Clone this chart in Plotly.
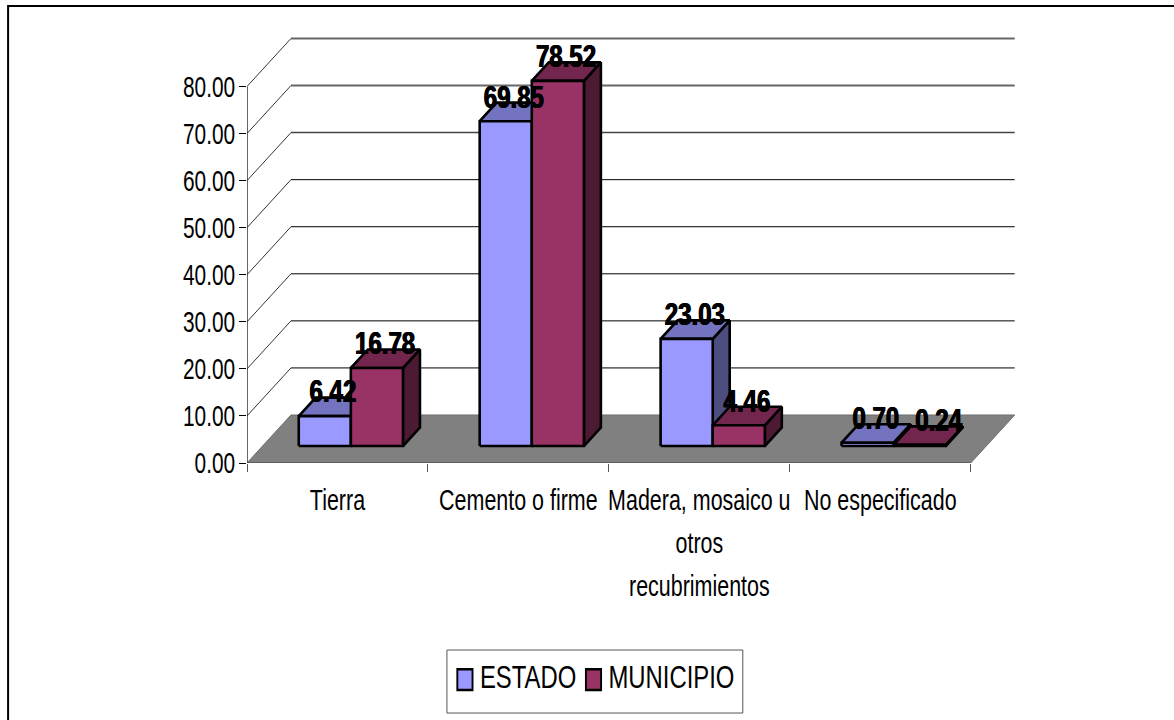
import plotly.graph_objects as go

# Floor finish categories and the two series
categories = ["Tierra", "Cemento o firme", "Madera, mosaico u<br>otros<br>recubrimientos", "No especificado"]
estado = [6.42, 69.85, 23.03, 0.70]
municipio = [16.78, 78.52, 4.46, 0.24]
y_ticks = [0, 10, 20, 30, 40, 50, 60, 70, 80]

W, H = 1174, 720
PLOT_L, PLOT_B = 247, 463          # pixel position of the axes origin
PX_X, PX_Y = 181.0, 4.706          # pixels per category / per value unit
X_MAX, Y_MAX = 4.3, 92.0
plot_w, plot_h = X_MAX * PX_X, Y_MAX * PX_Y

# Oblique projection of the depth axis, in data units
DEPTH_X, DEPTH_Y = 44 / PX_X, 48 / PX_Y
BAR_D0, BAR_D1 = 0.354, 0.74       # front and back of the bars along the depth axis
BAR_W, BAR_START = 0.288, 0.2
BAR_K = 0.988                      # foreshortening of bar heights

FONT = "Liberation Sans, Arial, sans-serif"
series = [
    ("ESTADO", estado, "#9999FF", "#7373BF", "#4D4D80"),
    ("MUNICIPIO", municipio, "#993366", "#73264D", "#4D1A33"),
]


def proj(x, v, d):
    return x + d * DEPTH_X, v * BAR_K + d * DEPTH_Y


def wall(x, y, **kw):
    return go.Scatter(x=x, y=y, mode="lines", showlegend=False, hoverinfo="skip", cliponaxis=False, **kw)


fig = go.Figure()

# Back wall and side wall gridlines
for v in y_ticks[1:]:
    color, width = ("#666666", 2) if v >= 70 else ("#444444", 1.5) if v == 60 else ("#000000", 1)
    fig.add_trace(wall([DEPTH_X, 4 + DEPTH_X], [v + DEPTH_Y] * 2, line=dict(color=color, width=width)))
    fig.add_trace(wall([0, DEPTH_X], [v, v + DEPTH_Y], line=dict(color="#000000", width=0.8)))

# Floor
fig.add_trace(wall([0, 4, 4 + DEPTH_X, DEPTH_X, 0], [0, 0, DEPTH_Y, DEPTH_Y, 0],
                   fill="toself", fillcolor="#808080", line=dict(color="#6e6e6e", width=1)))
# Value axis line
fig.add_trace(wall([0, 0], [0, y_ticks[-1]], line=dict(color="#000000", width=1.2)))
fig.add_trace(wall([0, 4], [0, 0], line=dict(color="#555555", width=1.5)))

# Bars: side, top, then front face of each block
for i in range(len(categories)):
    for j, (name, values, front, top, side) in enumerate(series):
        v = values[i]
        x0 = i + BAR_START + j * BAR_W
        x1 = x0 + BAR_W
        faces = [
            (side, [(x1, 0, BAR_D0), (x1, 0, BAR_D1), (x1, v, BAR_D1), (x1, v, BAR_D0)]),
            (top, [(x0, v, BAR_D0), (x1, v, BAR_D0), (x1, v, BAR_D1), (x0, v, BAR_D1)]),
            (front, [(x0, 0, BAR_D0), (x1, 0, BAR_D0), (x1, v, BAR_D0), (x0, v, BAR_D0)]),
        ]
        for color, corners in faces:
            pts = [proj(*c) for c in corners]
            pts.append(pts[0])
            fig.add_trace(wall([p[0] for p in pts], [p[1] for p in pts], fill="toself", fillcolor=color,
                               line=dict(color="#000000", width=2.6)))

# Value labels sit above the block, the last one is pushed clear of its neighbour
label_nudge = {(3, 1): 0.06}
for j, (name, values, *_rest) in enumerate(series):
    xs, ys = [], []
    for i, v in enumerate(values):
        cx, cy = proj(i + BAR_START + (j + 0.5) * BAR_W, v, BAR_D0)
        xs.append(cx + 0.045 + label_nudge.get((i, j), 0))
        ys.append(cy + 4.6)
    fig.add_trace(go.Scatter(x=xs, y=ys, mode="text", text=[f"{v:.2f}" for v in values],
                             textposition="middle center", cliponaxis=False, showlegend=False, hoverinfo="skip",
                             textfont=dict(family=FONT, size=32, color="#000000", weight="bold",
                                           shadow="0.6px 0 0 #000, -0.6px 0 0 #000")))

# Legend entries
for name, values, front, top, side in series:
    fig.add_trace(go.Scatter(x=[None], y=[None], mode="markers", name=name,
                             marker=dict(symbol="square", size=16, color=front, line=dict(color="#000000", width=2))))


def px(x):
    return (x - PLOT_L) / plot_w


def py(y):
    return (PLOT_B - y) / plot_h


def frame(x0, y0, x1, y1, **kw):
    return dict(type="rect", xref="paper", yref="paper", x0=px(x0), x1=px(x1), y0=py(y0), y1=py(y1), **kw)


shapes = [
    frame(8, 6, W + 10, H + 10, line=dict(color="#000000", width=2), layer="below"),
    frame(447, 650, 743, 713, line=dict(color="#555555", width=1), layer="below"),
]

spaced = [f'<span style="font-size:29px">{c.replace("<br>", "</span><br><span style=\"font-size:29px\">")}</span>'
          for c in categories]

fig.update_layout(
    width=W,
    height=H,
    margin=dict(l=PLOT_L, r=W - PLOT_L - plot_w, t=PLOT_B - plot_h, b=H - PLOT_B, autoexpand=False),
    paper_bgcolor="#FFFFFF",
    plot_bgcolor="rgba(0,0,0,0)",
    shapes=shapes,
    showlegend=True,
    legend=dict(orientation="h", x=px(445), xanchor="left", y=py(680), yanchor="middle",
                bgcolor="rgba(0,0,0,0)", borderwidth=0, font=dict(family=FONT, size=31, color="#000000")),
    xaxis=dict(range=[0, X_MAX], showgrid=False, zeroline=False, showline=False,
               tickmode="array", tickvals=[i + 0.5 for i in range(len(categories))], ticktext=spaced,
               ticks="", ticklabelstandoff=13, tickangle=0, tickfont=dict(family=FONT, size=33, color="#000000"),
               minor=dict(tickmode="array", tickvals=list(range(len(categories) + 1)), ticks="outside",
                          ticklen=8, tickwidth=1, tickcolor="#555555", showgrid=False)),
    yaxis=dict(range=[0, Y_MAX], showgrid=False, zeroline=False, showline=False,
               tickmode="array", tickvals=y_ticks, tickformat=".2f", ticks="outside", ticklen=7,
               ticklabelstandoff=-2, tickwidth=1, tickcolor="#000000",
               tickfont=dict(family=FONT, size=29, color="#000000")),
)

# Condense the lettering horizontally about each text's anchor, tighten the legend keys
# and close up the legend entries to the condensed text width
POST_SCRIPT = """
var root = document.querySelector('.js-plotly-plot');
function squeeze(t, k, dx, dy) {
  var base = t.getAttribute('transform') || '';
  if (base.indexOf('scale(') >= 0) return;
  var x = parseFloat(t.getAttribute('x')) || 0;
  t.setAttribute('transform', base + ' translate(' + (x + dx) + ',' + dy + ') scale(' + k + ',1) translate(' + (-x) + ',0)');
}
function restyle() {
  root.querySelectorAll('.xtick text').forEach(function (t) { squeeze(t, 0.74, 0, 0); });
  root.querySelectorAll('.ytick text').forEach(function (t) { squeeze(t, 0.72, 0, 0); });
  root.querySelectorAll('.textpoint text').forEach(function (t) { squeeze(t, 0.75, 0, 0); });
  root.querySelectorAll('text.legendtext').forEach(function (t) { squeeze(t, 0.77, -5, -4); });
  root.querySelectorAll('.legendpoints path').forEach(function (p) {
    var base = p.getAttribute('transform') || '';
    if (base.indexOf('scale(') < 0) p.setAttribute('transform', base + ' scale(0.95,1.3)');
  });
  var items = root.querySelectorAll('.legend .traces');
  if (items.length > 1) {
    var key = items[1].querySelector('.legendpoints path').getBoundingClientRect();
    var shift = 593.5 - (key.left + key.right) / 2;
    if (Math.abs(shift) > 0.25) {
      items[1].setAttribute('transform', (items[1].getAttribute('transform') || '') + ' translate(' + shift + ',0)');
    }
  }
  var scroll = root.querySelector('.legend .scrollbox');
  if (scroll) scroll.removeAttribute('clip-path');
}
restyle();
[0, 50, 200, 500].forEach(function (ms) { setTimeout(restyle, ms); });
"""

fig.write_html("out.html", config=dict(displayModeBar=False), post_script=POST_SCRIPT)
